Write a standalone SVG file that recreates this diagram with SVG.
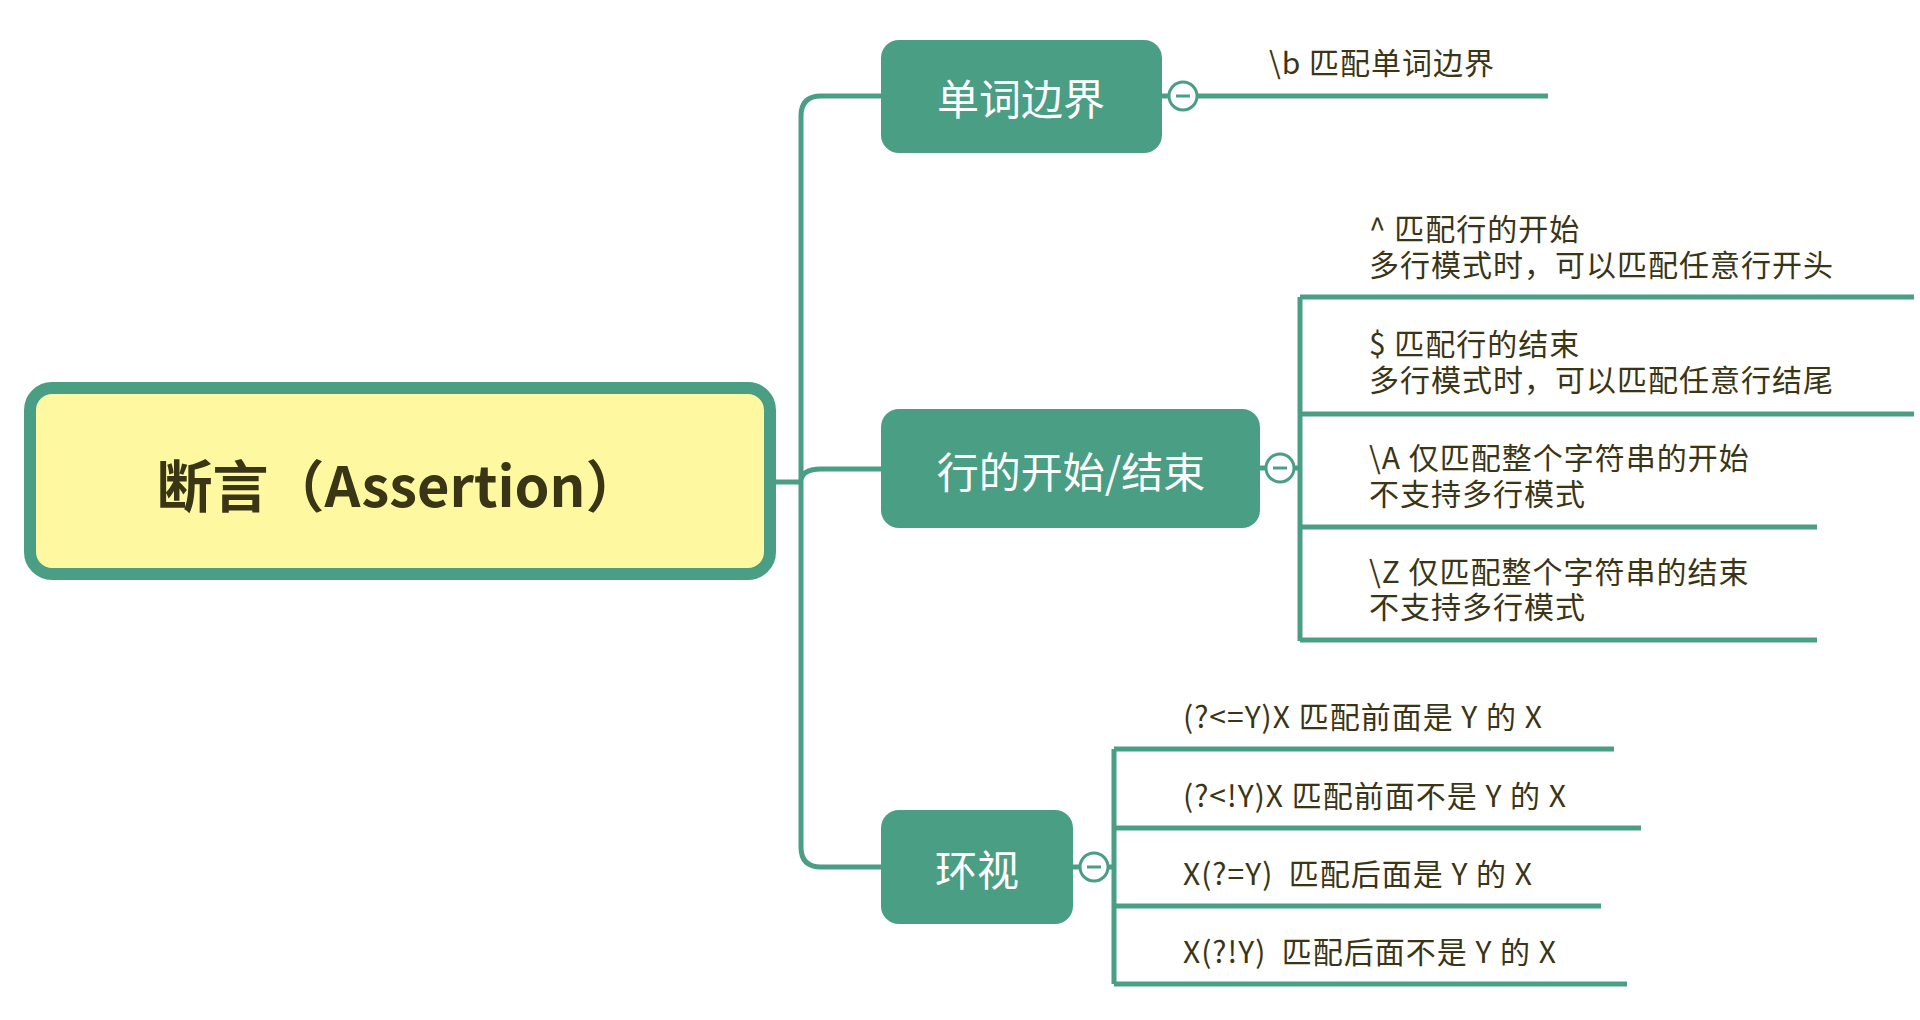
<svg xmlns="http://www.w3.org/2000/svg" width="1920" height="1020" viewBox="0 0 1920 1020">
<style>
.ln{fill:none;stroke:#4a9e84;stroke-width:5}
.nd{fill:#4a9e84}
.nt{fill:#fff;font-family:"Noto Sans CJK SC",sans-serif;font-size:42px;text-anchor:middle;dominant-baseline:central}
.lt{fill:#3a3515;font-family:"Noto Sans CJK SC",sans-serif;font-size:30px;letter-spacing:1px}
.cc{fill:#fff;stroke:#4a9e84;stroke-width:3}
.cm{stroke:#4a9e84;stroke-width:3}
</style>
<rect width="1920" height="1020" fill="#fff"/>
<g transform="translate(-5,-2)">
<g id="connectors">
<path class="ln" d="M775 484H806 M886 98H826Q806 98 806 118V849Q806 869 826 869H886 M806 484Q806 471 826 471H886"/>
<path class="ln" d="M1167 98H1173 M1203 98H1553"/>
<path class="ln" d="M1265 470H1270 M1300 470H1305 M1305 299V643 M1305 299H1919 M1305 416H1919 M1305 529H1822 M1305 642H1822"/>
<path class="ln" d="M1078 869H1084 M1114 869H1119 M1119 751V986 M1119 751H1619 M1119 830H1646 M1119 908H1606 M1119 986H1632"/>
</g>
<g id="root">
<rect x="35" y="390" width="740" height="186" rx="22" fill="#fef9a0" stroke="#4a9e84" stroke-width="12"/>
<text x="404" y="484" text-anchor="middle" dominant-baseline="central" font-family="Noto Sans CJK SC,sans-serif" font-weight="bold" font-size="56" fill="#3a3515">断言（Assertion）</text>
</g>
<g id="n1">
<rect class="nd" x="886" y="42" width="281" height="113" rx="18"/>
<text class="nt" x="1026" y="98">单词边界</text>
<circle class="cc" cx="1188" cy="98" r="14"/><line class="cm" x1="1181" y1="98" x2="1195" y2="98"/>
<text class="lt" x="1274" y="76">\b 匹配单词边界</text>
</g>
<g id="n2">
<rect class="nd" x="886" y="411" width="379" height="119" rx="18"/>
<text class="nt" x="1076" y="471">行的开始/结束</text>
<circle class="cc" cx="1285" cy="470" r="14"/><line class="cm" x1="1278" y1="470" x2="1292" y2="470"/>
<text class="lt" x="1374" y="242">^ 匹配行的开始</text>
<text class="lt" x="1374" y="278">多行模式时，可以匹配任意行开头</text>
<text class="lt" x="1374" y="357">$ 匹配行的结束</text>
<text class="lt" x="1374" y="393">多行模式时，可以匹配任意行结尾</text>
<text class="lt" x="1374" y="471">\A 仅匹配整个字符串的开始</text>
<text class="lt" x="1374" y="507">不支持多行模式</text>
<text class="lt" x="1374" y="585">\Z 仅匹配整个字符串的结束</text>
<text class="lt" x="1374" y="620">不支持多行模式</text>
</g>
<g id="n3">
<rect class="nd" x="886" y="812" width="192" height="114" rx="18"/>
<text class="nt" x="982" y="869">环视</text>
<circle class="cc" cx="1099" cy="869" r="14"/><line class="cm" x1="1092" y1="869" x2="1106" y2="869"/>
<text class="lt" x="1188" y="730">(?&lt;=Y)X 匹配前面是 Y 的 X</text>
<text class="lt" x="1188" y="809">(?&lt;!Y)X 匹配前面不是 Y 的 X</text>
<text class="lt" x="1188" y="887">X(?=Y)&#160; 匹配后面是 Y 的 X</text>
<text class="lt" x="1188" y="965">X(?!Y)&#160; 匹配后面不是 Y 的 X</text>
</g>
</g>
</svg>
